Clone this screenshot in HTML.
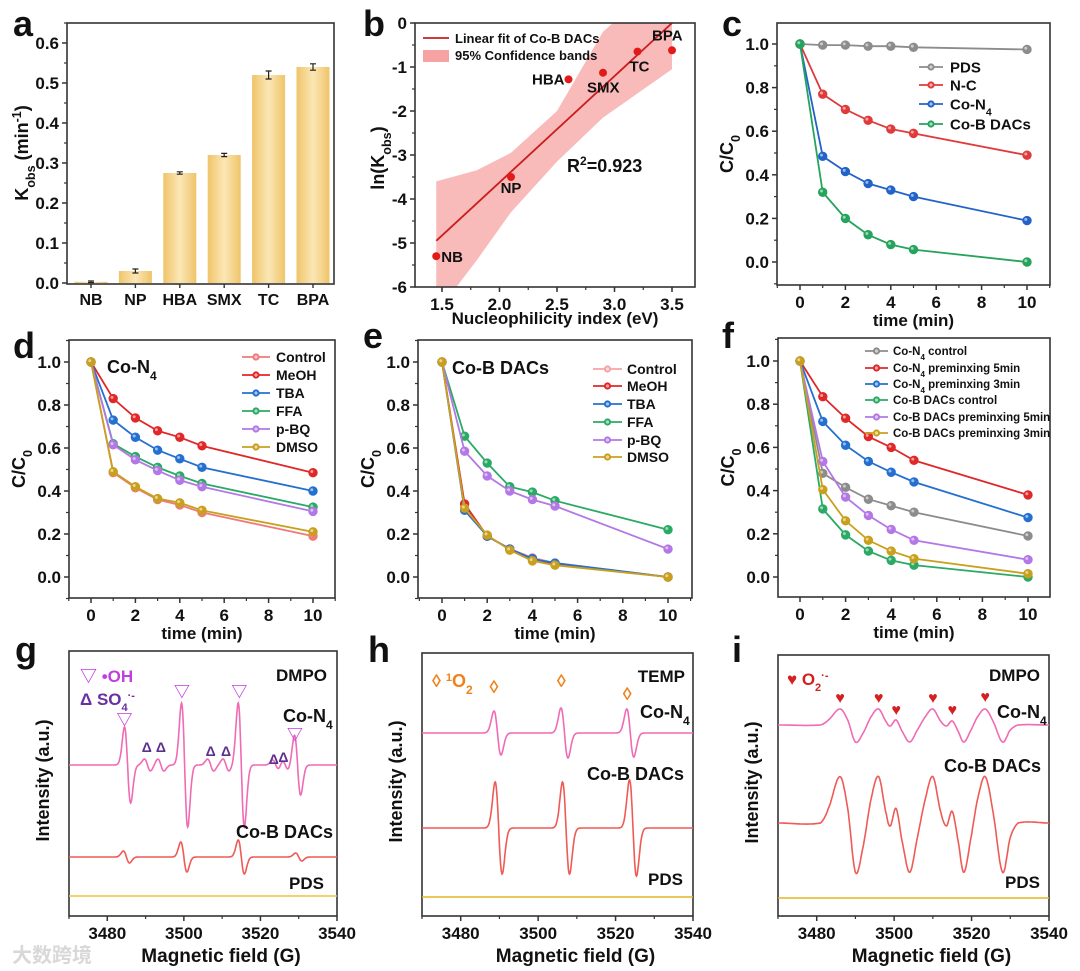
<!DOCTYPE html>
<html><head><meta charset="utf-8">
<style>
html,body{margin:0;padding:0;background:#fff;}
svg{display:block;font-family:"Liberation Sans","Noto Sans CJK SC",sans-serif;}
text{font-weight:bold;fill:#111;}
</style></head>
<body>
<svg id="fig" width="1080" height="971" viewBox="0 0 1080 971" xmlns="http://www.w3.org/2000/svg">
<defs>
<linearGradient id="barGrad" x1="0" x2="1" y1="0" y2="0">
<stop offset="0" stop-color="#efc46a"/><stop offset="0.5" stop-color="#fbe7b5"/><stop offset="1" stop-color="#efc46a"/>
</linearGradient>
</defs>
</svg>
<script>
// ---------- DATA ----------
const aCategories = ["NB","NP","HBA","SMX","TC","BPA"];
const aValues = [0.003,0.03,0.275,0.32,0.52,0.54];
const aErrors = [0.002,0.005,0.003,0.004,0.01,0.008];

const bNames = ["NB","NP","HBA","SMX","TC","BPA"];
const bX = [1.45,2.1,2.6,2.9,3.2,3.5];
const bY = [-5.3,-3.5,-1.28,-1.13,-0.65,-0.62];
const bFitX = [1.45,3.5];
const bFitY = [-4.95,0.0];
const bBandX = [1.45,1.8,2.1,2.5,2.9,3.2,3.5];
const bBandUpper = [-3.6,-3.35,-2.95,-2.0,-0.2,0.5,1.0];
const bBandLower = [-6.6,-5.4,-4.3,-3.15,-2.15,-1.6,-1.05];

const tTimes = [0,1,2,3,4,5,10];
const cNames = ["PDS","N-C","Co-N4","Co-B DACs"];
const cPDS = [1,0.995,0.995,0.99,0.99,0.985,0.975];
const cNC = [1,0.77,0.70,0.65,0.61,0.59,0.49];
const cCoN4 = [1,0.485,0.415,0.36,0.33,0.30,0.19];
const cCoB = [1,0.32,0.20,0.125,0.08,0.057,0];

const dNames = ["Control","MeOH","TBA","FFA","p-BQ","DMSO"];
const dControl = [1,0.485,0.415,0.36,0.335,0.30,0.19];
const dMeOH = [1,0.83,0.74,0.68,0.65,0.61,0.485];
const dTBA = [1,0.73,0.65,0.59,0.55,0.51,0.40];
const dFFA = [1,0.62,0.56,0.51,0.47,0.435,0.325];
const dPBQ = [1,0.615,0.545,0.495,0.45,0.42,0.305];
const dDMSO = [1,0.49,0.42,0.365,0.345,0.31,0.21];

const eControl = [1,0.34,0.19,0.13,0.09,0.065,0];
const eMeOH = [1,0.34,0.19,0.13,0.085,0.06,0];
const eTBA = [1,0.31,0.19,0.13,0.085,0.065,0];
const eFFA = [1,0.655,0.53,0.42,0.395,0.355,0.22];
const ePBQ = [1,0.585,0.47,0.40,0.36,0.33,0.13];
const eDMSO = [1,0.32,0.195,0.125,0.075,0.055,0];

const fNames = ["Co-N4 control","Co-N4 preminxing 5min","Co-N4 preminxing 3min","Co-B DACs control","Co-B DACs preminxing 5min","Co-B DACs preminxing 3min"];
const fN4Control = [1,0.48,0.415,0.36,0.33,0.30,0.19];
const fN4Pre5 = [1,0.835,0.735,0.65,0.60,0.54,0.38];
const fN4Pre3 = [1,0.72,0.61,0.535,0.485,0.44,0.275];
const fCoBControl = [1,0.315,0.195,0.12,0.077,0.055,0];
const fCoBPre5 = [1,0.535,0.37,0.285,0.22,0.17,0.08];
const fCoBPre3 = [1,0.405,0.26,0.17,0.12,0.085,0.015];

// EPR: derivative-line centers / amplitudes (px) / widths (G)
const gN4Centers = [3485.3,3500.2,3515.0,3529.7,3490.5,3494,3507,3511,3524,3526.5];
const gN4Amps = [38,62,62,30,6,6,6,6,5,5];
const gCoBCenters = [3485,3500,3515,3530];
const gCoBAmps = [6,15,17,4];
const hN4Centers = [3489.5,3506.8,3523.8];
const hN4Amps = [22,25,24];
const hCoBCenters = [3489.8,3507.2,3524.5];
const hCoBAmps = [46,46,48];
const iFields = [3470,3481,3483,3486,3488,3490,3492,3494,3496,3498,3499,3500.5,3502,3504,3506,3508,3510,3512,3513.5,3515,3516.5,3518,3520,3521.5,3523.5,3525.5,3528,3530,3532,3540];
const iShape = [0,0,5,16,5,-17,-8,8,16,3,-1,5,-6,-17,-5,8,16,4,-1,4,-6,-17,-4,8,16,4,-17,-5,0,0];

// ---------- HELPERS ----------
const svg = document.getElementById('fig');
const NS = "http://www.w3.org/2000/svg";
function el(tag, attrs, parent){ const e=document.createElementNS(NS,tag); for(const k in attrs) e.setAttribute(k,attrs[k]); (parent||svg).appendChild(e); return e; }
function lin(v0,p0,v1,p1){ return v=> p0+(v-v0)*(p1-p0)/(v1-v0); }
function txt(x,y,s,size,anchor,parent,fill){ const t=el('text',{x:x,y:y,'font-size':size,'text-anchor':anchor||'middle'},parent); if(fill) t.style.fill=fill; t.textContent=s; return t; }

function panel(name, box){
  const g = el('g',{});
  
  
  return g;
}
function frame(g, box){
  const r = el('rect',{x:box.l,y:box.t,width:box.r-box.l,height:box.b-box.t,fill:'none',stroke:'#333','stroke-width':1.6},g);
  
  
}
function xAxis(g, box, sx, ticks, minors, labelFmt){
  const ax = el('g',{},g);
  
  
  ticks.forEach(v=>{ const x=sx(v); el('line',{x1:x,x2:x,y1:box.b,y2:box.b+5,stroke:'#333','stroke-width':1.5},ax); txt(x,box.b+23,labelFmt?labelFmt(v):String(v),17,'middle',ax); });
  minors.forEach(v=>{ const x=sx(v); if(x<box.l-0.5||x>box.r+0.5) return; el('line',{x1:x,x2:x,y1:box.b,y2:box.b+3,stroke:'#333','stroke-width':1.2},ax); });
}
function yAxis(g, box, sy, ticks, minors, labelFmt){
  const ax = el('g',{},g);
  
  
  ticks.forEach(v=>{ const y=sy(v); el('line',{x1:box.l-5,x2:box.l,y1:y,y2:y,stroke:'#333','stroke-width':1.5},ax); txt(box.l-8,y+6,labelFmt?labelFmt(v):String(v),17,'end',ax); });
  minors.forEach(v=>{ const y=sy(v); if(y<box.t-0.5||y>box.b+0.5) return; el('line',{x1:box.l-3,x2:box.l,y1:y,y2:y,stroke:'#333','stroke-width':1.2},ax); });
}
function ytitle(g,x,y,parts,size){
  const t = el('text',{x:0,y:0,'font-size':size||17,'text-anchor':'middle',transform:`translate(${x},${y}) rotate(-90)`},g);
  
  
  parts.forEach(p=>{ const s=el('tspan',{},t); s.textContent=p[0]; if(p[1]==='sub'){s.setAttribute('baseline-shift','sub');s.setAttribute('font-size',(size||17)*0.7);} if(p[1]==='sup'){s.setAttribute('baseline-shift','super');s.setAttribute('font-size',(size||17)*0.7);} });
  return t;
}
function letter(s,x,y){ const t=txt(x,y,s,36,'start');   }
function f1(v){ return v.toFixed(1); }
function range(a,b,s){ const r=[]; for(let v=a; v<=b+1e-9; v+=s) r.push(+v.toFixed(4)); return r; }

function series(g, sx, sy, xs, ys, color, name){
  const sg = el('g',{},g);
  
  
  const d = xs.map((x,i)=>(i?'L':'M')+sx(x).toFixed(1)+','+sy(ys[i]).toFixed(1)).join('');
  el('path',{d:d,fill:'none',stroke:color,'stroke-width':1.8},sg);
  xs.forEach((x,i)=>{ const c=el('circle',{cx:sx(x),cy:sy(ys[i]),r:4.2,fill:color,stroke:color,'stroke-width':1},sg);   el('circle',{cx:sx(x)-1.2,cy:sy(ys[i])-1.2,r:1.5,fill:'#fff','fill-opacity':0.55},sg); });
}
function legend(g, x1, x2, xt, ys, names, colors, size){
  const lg = el('g',{},g);
  
  
  names.forEach((n,i)=>{
    const e = el('g',{},lg);
    
    
    el('line',{x1:x1,x2:x2,y1:ys[i],y2:ys[i],stroke:colors[i],'stroke-width':1.8},e);
    el('circle',{cx:(x1+x2)/2,cy:ys[i],r:3.6,fill:colors[i]},e);
    el('circle',{cx:(x1+x2)/2,cy:ys[i],r:1.6,fill:'#fff','fill-opacity':0.6},e);
    const t = txt(xt,ys[i]+size*0.36,'',size,'start',e);
    const m = n.match(/^(.*?N)(4)(.*)$/);
    if(m){ const a=el('tspan',{},t); a.textContent=m[1]; const b=el('tspan',{'baseline-shift':'sub','font-size':size*0.7},t); b.textContent=m[2]; const c=el('tspan',{},t); c.textContent=m[3]; }
    else t.textContent=n;
  });
}

// ---------- PANEL A ----------
(function(){
  const box={l:67,t:23,r:334,b:284};
  const g=panel('panel-a-bar-chart',box);
  const sy=lin(0,283,0.6,43);
  const sx=i=> 91 + i*44.4;
  aCategories.forEach((c,i)=>{
    const x=sx(i), w=33, y=sy(aValues[i]);
    const r=el('rect',{x:x-w/2,y:y,width:w,height:sy(0)-y,fill:'url(#barGrad)'},g);
    
    
    const e1=sy(aValues[i]+aErrors[i]), e2=sy(aValues[i]-aErrors[i]);
    el('path',{d:`M${x},${e1}L${x},${e2}M${x-3},${e1}L${x+3},${e1}M${x-3},${e2}L${x+3},${e2}`,stroke:'#222','stroke-width':1.2,fill:'none'},g);
  });
  frame(g,box);
  yAxis(g,box,sy,range(0,0.6,0.1),range(0.05,0.65,0.1),f1);
  const ax=el('g',{},g);
  
  
  aCategories.forEach((c,i)=>{ el('line',{x1:sx(i),x2:sx(i),y1:box.b,y2:box.b+4,stroke:'#333','stroke-width':1.4},ax); txt(sx(i),box.b+21,c,16,'middle',ax); });
  ytitle(g,28,153,[["K"],["obs","sub"],[" (min"],["-1","sup"],[")"]],18);
  letter('a',13,36);
})();

// ---------- PANEL B ----------
(function(){
  const box={l:415,t:23,r:695,b:287};
  const g=panel('panel-b-linear-fit',box);
  const sx=lin(1.5,442,3.5,672), sy=lin(0,23,-6,287);
  el('clipPath',{id:'clipB'},g);
  el('rect',{x:box.l,y:box.t,width:box.r-box.l,height:box.b-box.t},document.getElementById('clipB'));
  const up=bBandX.map((x,i)=>sx(x)+','+sy(bBandUpper[i]));
  const lo=bBandX.map((x,i)=>sx(x)+','+sy(bBandLower[i])).reverse();
  const band=el('polygon',{points:up.concat(lo).join(' '),fill:'#f7a3a3','fill-opacity':0.75,'clip-path':'url(#clipB)'},g);
  
  
  const fit=el('line',{x1:sx(bFitX[0]),y1:sy(bFitY[0]),x2:sx(bFitX[1]),y2:sy(bFitY[1]),stroke:'#c81e1e','stroke-width':1.8},g);
  
  
  const lblOff={NB:[5,6,'start'],NP:[0,16,'middle'],HBA:[-4,5,'end'],SMX:[-16,20,'start'],TC:[-8,20,'start'],BPA:[-20,-10,'start']};
  bX.forEach((x,i)=>{
    const c=el('circle',{cx:sx(x),cy:sy(bY[i]),r:4,fill:'#e31a1a'},g);
    
    
    const o=lblOff[bNames[i]];
    txt(sx(x)+o[0],sy(bY[i])+o[1],bNames[i],15,o[2],g);
  });
  frame(g,box);
  xAxis(g,box,sx,range(1.5,3.5,0.5),range(1.25,3.75,0.25),f1);
  yAxis(g,box,sy,[0,-1,-2,-3,-4,-5,-6],range(-5.5,-0.5,1),v=>String(v));
  const lg=el('g',{},g);
  
  
  el('line',{x1:423,x2:449,y1:38,y2:38,stroke:'#c81e1e','stroke-width':1.8},lg);
  txt(455,43,'Linear fit of Co-B DACs',13,'start',lg);
  el('rect',{x:423,y:50,width:26,height:12,fill:'#f7a3a3'},lg);
  txt(455,60,'95% Confidence bands',13,'start',lg);
  const r=txt(567,172,'R',18,'start',g);
  const s1=el('tspan',{'baseline-shift':'super','font-size':12},r); s1.textContent='2';
  const s2=el('tspan',{},r); s2.textContent='=0.923';
  
  
  ytitle(g,384,158,[["ln(K"],["obs","sub"],[")"]],18);
  const xt=txt(555,324,'Nucleophilicity index (eV)',17,'middle',g);
  
  
  letter('b',363,36);
})();

// ---------- TIME PANELS ----------
function timePanel(name, box, x0p, x10p, y1p, y0p, seriesList, colors, names){
  const g=panel(name,box);
  const sx=lin(0,x0p,10,x10p), sy=lin(1,y1p,0,y0p);
  frame(g,box);
  xAxis(g,box,sx,range(0,10,2),range(-1,11,2));
  yAxis(g,box,sy,range(0,1,0.2),range(-0.1,1.1,0.2),f1);
  seriesList.forEach((ys,i)=> series(g,sx,sy,tTimes,ys,colors[i],'series-'+names[i].toLowerCase().replace(/[^a-z0-9]+/g,'-')));
  const xt=txt((box.l+box.r)/2,box.b+41,'time (min)',17,'middle',g);
  
  
  ytitle(g,box.l-44,(box.t+box.b)/2,[["C/C"],["0","sub"]],18);
  return g;
}
(function(){
  const colors=['#8c8c8c','#e03a3a','#2263c9','#26a35c'];
  const g=timePanel('panel-c-degradation',{l:777,t:23,r:1050,b:285},800,1027,44,262,[cPDS,cNC,cCoN4,cCoB],colors,cNames);
  legend(g,919,943,950,[67,85,104,124],["PDS","N-C","Co-N4","Co-B DACs"],colors,15);
  letter('c',722,36);
})();
(function(){
  const colors=['#f07a7a','#e02828','#2470d0','#2aaa64','#b378e6','#c9a01e'];
  const g=timePanel('panel-d-co-n4-quenching',{l:69,t:340,r:335,b:598},91,313,362,577,[dControl,dMeOH,dTBA,dFFA,dPBQ,dDMSO],colors,dNames);
  legend(g,242,270,276,[357,375,393,411,429,447],dNames,colors,14);
  const t=txt(107,373,'Co-N',18,'start',g); const s=el('tspan',{'baseline-shift':'sub','font-size':12},t); s.textContent='4';
  letter('d',13,358);
})();
(function(){
  const colors=['#f5a5a5','#e02828','#2470d0','#2aaa64','#b378e6','#c9a01e'];
  const g=timePanel('panel-e-co-b-quenching',{l:418,t:340,r:692,b:598},442,668,362,577,[eControl,eMeOH,eTBA,eFFA,ePBQ,eDMSO],colors,dNames);
  legend(g,593,622,627,[369,386,404,422,440,457],dNames,colors,14);
  txt(452,374,'Co-B DACs',18,'start',g);
  letter('e',363,348);
})();
(function(){
  const colors=['#8c8c8c','#e02828','#2470d0','#2aaa64','#b378e6','#c9a01e'];
  const g=timePanel('panel-f-preminxing',{l:778,t:338,r:1050,b:597},800,1028,361,577,[fN4Control,fN4Pre5,fN4Pre3,fCoBControl,fCoBPre5,fCoBPre3],colors,fNames);
  legend(g,865,888,893,[351,368,384,400,417,433],fNames,colors,11.5);
  letter('f',722,348);
})();

// ---------- EPR PANELS ----------
function deriv(field, centers, amps, w){
  let s=0; centers.forEach((c,i)=>{ const u=(field-c)/w; s+= amps[i]*(-u)*Math.exp(0.5-u*u/2); }); return s;
}
function eprLine(g, sx, base, fn, color, name){
  let d=''; for(let f=3470; f<=3540; f+=0.1){ d+=(d?'L':'M')+sx(f).toFixed(1)+','+(base-fn(f)).toFixed(1); }
  const p=el('path',{d:d,fill:'none',stroke:color,'stroke-width':1.6},g);
  
  
}
function catmull(xs, ys){
  return f=>{ let i=0; while(i<xs.length-2 && f>xs[i+1]) i++;
    const p0=ys[Math.max(i-1,0)],p1=ys[i],p2=ys[i+1],p3=ys[Math.min(i+2,ys.length-1)];
    const t=(f-xs[i])/(xs[i+1]-xs[i]);
    return 0.5*((2*p1)+(-p0+p2)*t+(2*p0-5*p1+4*p2-p3)*t*t+(-p0+3*p1-3*p2+p3)*t*t*t); };
}
function eprPanel(name, box){
  const g=panel(name,box);
  const sx=lin(3470,box.l,3540,box.r);
  frame(g,box);
  xAxis(g,box,sx,[3480,3500,3520,3540],[3470,3490,3510,3530]);
  const xt=txt((box.l+box.r)/2+18,box.b+46,'Magnetic field (G)',19,'middle',g);
  
  
  ytitle(g,box.l-20,(box.t+box.b)/2-3,[["Intensity (a.u.)"]],18);
  return [g,sx];
}
(function(){
  const box={l:69,t:651,r:337,b:916};
  const [g,sx]=eprPanel('panel-g-epr-dmpo',box);
  eprLine(g,sx,765,f=>deriv(f,gN4Centers,gN4Amps,0.8),'#f06bb4','spectrum-co-n4');
  eprLine(g,sx,857,f=>deriv(f,gCoBCenters,gCoBAmps,0.8),'#ee5a55','spectrum-co-b-dacs');
  eprLine(g,sx,896,f=>0,'#e8c53a','spectrum-pds');
  txt(80,682,'▽ •OH',17,'start',g,'#c23ee0');
  const so=txt(80,705,'Δ  SO',17,'start',g,'#6a2fa0'); const s4=el('tspan',{'baseline-shift':'sub','font-size':11},so); s4.textContent='4'; const s5=el('tspan',{'baseline-shift':'super','font-size':11},so); s5.textContent='·-';
  [[3484.5,725],[3499.5,697],[3514.5,697],[3529,740]].forEach(p=>txt(sx(p[0]),p[1],'▽',16,'middle',g,'#c23ee0'));
  [[3490.3,752],[3494,752],[3507,756],[3511,756],[3523.5,764],[3526,762]].forEach(p=>txt(sx(p[0]),p[1],'Δ',14,'middle',g,'#5a3090'));
  txt(327,681,'DMPO',17,'end',g);
  const cn=txt(283,722,'Co-N',18,'start',g); const c4=el('tspan',{'baseline-shift':'sub','font-size':12},cn); c4.textContent='4';
  txt(333,838,'Co-B DACs',18,'end',g);
  txt(324,889,'PDS',17,'end',g);
  letter('g',15,662);
  const wm=txt(12,962,'大数跨境',20,'start',g,'#d8d8d8');
  
  
  wm.setAttribute('font-family','"Noto Sans CJK SC",sans-serif');
})();
(function(){
  const box={l:422,t:653,r:693,b:916};
  const [g,sx]=eprPanel('panel-h-epr-temp',box);
  eprLine(g,sx,733,f=>deriv(f,hN4Centers,hN4Amps,0.9),'#f06bb4','spectrum-co-n4');
  eprLine(g,sx,828,f=>deriv(f,hCoBCenters,hCoBAmps,0.9),'#ee5a55','spectrum-co-b-dacs');
  eprLine(g,sx,897,f=>0,'#e0b51e','spectrum-pds');
  const o=txt(432,687,'◊ ',18,'start',g,'#f0821e'); const o1=el('tspan',{'baseline-shift':'super','font-size':11},o); o1.textContent='1'; const o2=el('tspan',{},o); o2.textContent='O'; const o3=el('tspan',{'baseline-shift':'sub','font-size':12},o); o3.textContent='2';
  [[3488.6,693],[3506,687],[3523,700]].forEach(p=>txt(sx(p[0]),p[1],'◊',18,'middle',g,'#f0821e'));
  txt(685,682,'TEMP',17,'end',g);
  const cn=txt(640,718,'Co-N',18,'start',g); const c4=el('tspan',{'baseline-shift':'sub','font-size':12},cn); c4.textContent='4';
  txt(684,780,'Co-B DACs',18,'end',g);
  txt(683,885,'PDS',17,'end',g);
  letter('h',368,662);
})();
(function(){
  const box={l:778,t:655,r:1049,b:916};
  const [g,sx]=eprPanel('panel-i-epr-dmpo',box);
  const shape=catmull(iFields,iShape);
  eprLine(g,sx,725,f=>shape(f),'#f06bb4','spectrum-co-n4');
  eprLine(g,sx,823,f=>shape(f)*2.9,'#ee5a55','spectrum-co-b-dacs');
  eprLine(g,sx,898,f=>0,'#e0b51e','spectrum-pds');
  const o=txt(787,685,'♥ O',17,'start',g,'#d42020'); const o1=el('tspan',{'baseline-shift':'sub','font-size':11},o); o1.textContent='2'; const o2=el('tspan',{'baseline-shift':'super','font-size':11},o); o2.textContent='·-';
  [[3486,703],[3496,703],[3500.5,715],[3510,703],[3515,715],[3523.5,702]].forEach(p=>txt(sx(p[0]),p[1],'♥',16,'middle',g,'#d42020'));
  txt(1040,681,'DMPO',17,'end',g);
  const cn=txt(997,718,'Co-N',18,'start',g); const c4=el('tspan',{'baseline-shift':'sub','font-size':12},cn); c4.textContent='4';
  txt(1041,772,'Co-B DACs',18,'end',g);
  txt(1040,888,'PDS',17,'end',g);
  letter('i',732,662);
})();
</script>
</body></html>
